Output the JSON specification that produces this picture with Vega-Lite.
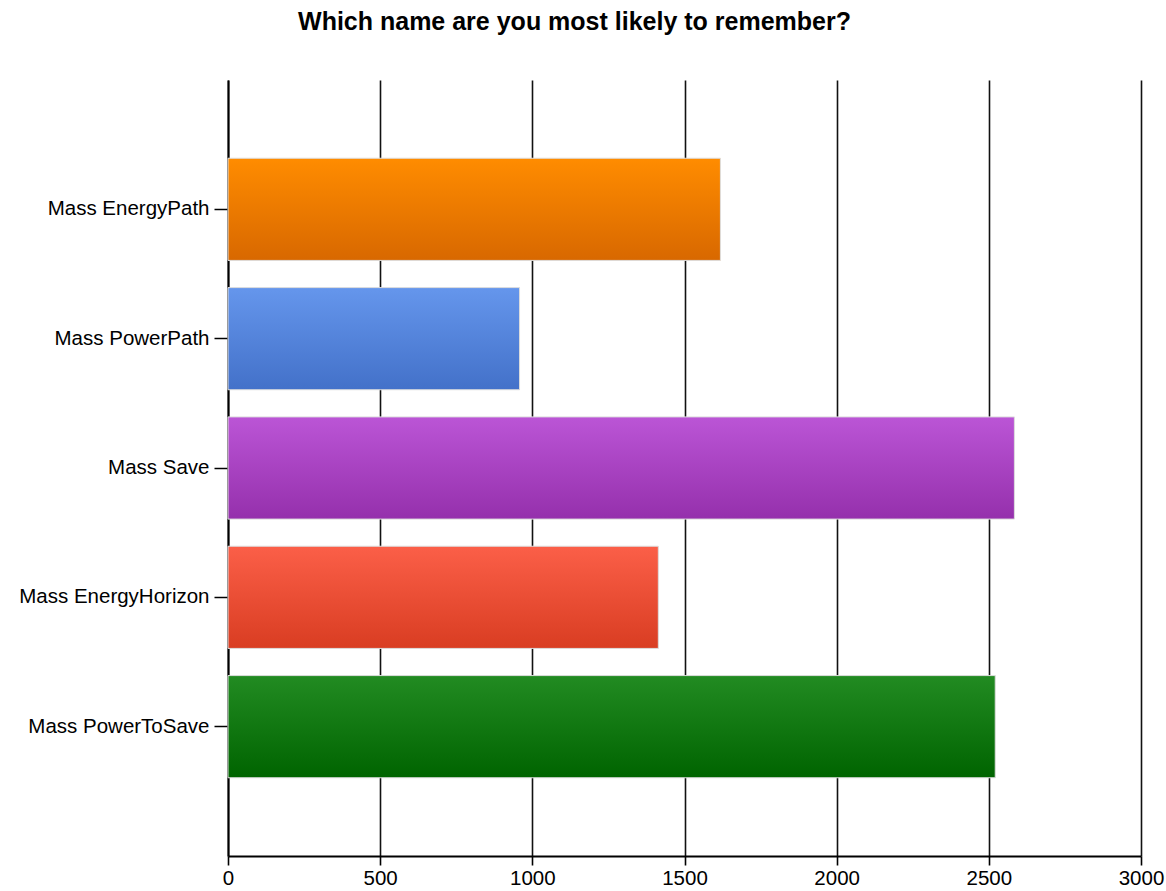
{
  "$schema": "https://vega.github.io/schema/vega-lite/v6.json",
  "autosize": "none",
  "width": 913,
  "height": 776,
  "padding": {"left": 228, "top": 80, "right": 25, "bottom": 35},
  "background": "white",
  "title": {
    "text": "Which name are you most likely to remember?",
    "font": "Liberation Sans",
    "fontSize": 25,
    "fontWeight": "bold",
    "color": "black",
    "anchor": "middle",
    "baseline": "alphabetic",
    "offset": 25,
    "dx": -110
  },
  "config": {
    "view": {"stroke": null},
    "axis": {
      "labelFont": "Liberation Sans",
      "labelFontSize": 20.5,
      "labelColor": "black",
      "labelLimit": 0,
      "domainColor": "black",
      "tickColor": "black",
      "title": null
    }
  },
  "data": {
    "values": [
      {"name": "Mass EnergyPath", "count": 1618},
      {"name": "Mass PowerPath", "count": 958},
      {"name": "Mass Save", "count": 2584},
      {"name": "Mass EnergyHorizon", "count": 1414},
      {"name": "Mass PowerToSave", "count": 2521}
    ]
  },
  "encoding": {
    "y": {
      "field": "name",
      "type": "nominal",
      "sort": null,
      "scale": {
        "domain": ["Mass EnergyPath", "Mass PowerPath", "Mass Save", "Mass EnergyHorizon", "Mass PowerToSave"],
        "paddingInner": 0.21,
        "paddingOuter": 0.605
      },
      "axis": {
        "domainWidth": 2,
        "tickSize": 14,
        "tickWidth": 1.5,
        "labelPadding": 5,
        "labelLimit": 0,
        "grid": false
      }
    },
    "x": {
      "field": "count",
      "type": "quantitative",
      "scale": {"domain": [0, 3000], "nice": false},
      "axis": {
        "values": [0, 500, 1000, 1500, 2000, 2500, 3000],
        "format": "d",
        "grid": true,
        "gridColor": "#111",
        "gridWidth": 1.6,
        "gridOpacity": 1,
        "domainWidth": 2,
        "tickSize": 9,
        "tickWidth": 1.6,
        "labelPadding": 3,
        "labelFlush": false
      }
    }
  },
  "layer": [
    {
      "transform": [{"filter": "datum.name == 'Mass EnergyPath'"}],
      "mark": {"type": "bar", "stroke": "#dddddd", "strokeWidth": 1,
        "color": {"gradient": "linear", "x1": 0, "y1": 0, "x2": 0, "y2": 1,
          "stops": [{"offset": 0, "color": "#ff8c00"}, {"offset": 1, "color": "#d86800"}]}}
    },
    {
      "transform": [{"filter": "datum.name == 'Mass PowerPath'"}],
      "mark": {"type": "bar", "stroke": "#dddddd", "strokeWidth": 1,
        "color": {"gradient": "linear", "x1": 0, "y1": 0, "x2": 0, "y2": 1,
          "stops": [{"offset": 0, "color": "#6596ec"}, {"offset": 1, "color": "#4371c9"}]}}
    },
    {
      "transform": [{"filter": "datum.name == 'Mass Save'"}],
      "mark": {"type": "bar", "stroke": "#dddddd", "strokeWidth": 1,
        "color": {"gradient": "linear", "x1": 0, "y1": 0, "x2": 0, "y2": 1,
          "stops": [{"offset": 0, "color": "#bb55d6"}, {"offset": 1, "color": "#9530ac"}]}}
    },
    {
      "transform": [{"filter": "datum.name == 'Mass EnergyHorizon'"}],
      "mark": {"type": "bar", "stroke": "#dddddd", "strokeWidth": 1,
        "color": {"gradient": "linear", "x1": 0, "y1": 0, "x2": 0, "y2": 1,
          "stops": [{"offset": 0, "color": "#fb5f48"}, {"offset": 1, "color": "#d93d22"}]}}
    },
    {
      "transform": [{"filter": "datum.name == 'Mass PowerToSave'"}],
      "mark": {"type": "bar", "stroke": "#dddddd", "strokeWidth": 1,
        "color": {"gradient": "linear", "x1": 0, "y1": 0, "x2": 0, "y2": 1,
          "stops": [{"offset": 0, "color": "#228b22"}, {"offset": 1, "color": "#006400"}]}}
    }
  ]
}
